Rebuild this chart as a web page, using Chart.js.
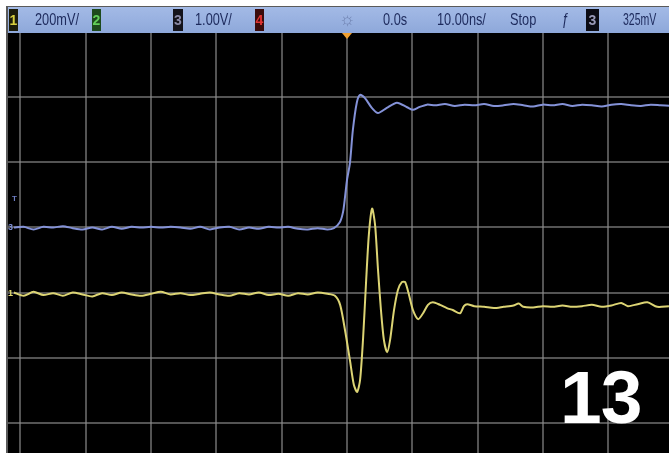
<!DOCTYPE html>
<html>
<head>
<meta charset="utf-8">
<script src="https://cdn.jsdelivr.net/npm/chart.js@4/dist/chart.umd.min.js"></script>
<style>
  html, body { margin: 0; padding: 0; background: #ffffff; }
  body { width: 669px; height: 453px; position: relative; overflow: hidden; }
  #frame { position: absolute; left: 6px; top: 6px; width: 663px; height: 447px; background: #5a5a5a; }
  #header {
    position: absolute; left: 8px; top: 7px; width: 661px; height: 26px;
    background: linear-gradient(#a3bae6, #8ea8da);
    font-family: "Liberation Sans", Arial, sans-serif; color: #1d2a5c;
  }
  .t { position: absolute; top: 3px; font-size: 17px; line-height: 20px; transform: scaleX(0.75); transform-origin: left center; white-space: nowrap; filter: blur(0.45px); }
  .box { position: absolute; top: 2px; height: 22px; font-size: 14px; line-height: 22px; text-align: center; font-weight: bold; font-family: "Liberation Sans", Arial, sans-serif; filter: blur(0.3px); }
  #plot { position: absolute; left: 8px; top: 33px; width: 661px; height: 420px; background: #000; }
  #c { filter: blur(0.35px); }
  #big {
    position: absolute; left: 560px; top: 352px; font-family: "Liberation Sans", Arial, sans-serif;
    font-weight: bold; font-size: 75px; line-height: 90px; color: #ffffff; letter-spacing: -1px;
  }
  .mk { position: absolute; font-family: "Liberation Sans", Arial, sans-serif; font-size: 9px; font-weight: bold; line-height: 10px; filter: blur(0.3px); }
  #trig { position: absolute; left: 342px; top: 33px; width: 0; height: 0;
    border-left: 5px solid transparent; border-right: 5px solid transparent; border-top: 6px solid #f0a030; }
</style>
</head>
<body>
<div id="frame"></div>
<div id="plot"><canvas id="c" width="661" height="420"></canvas></div>
<div id="header">
  <div class="box" style="left:1px;width:9px;background:#1c1c0a;color:#d6ce3e;">1</div>
  <span class="t" style="left:27px;">200mV/</span>
  <div class="box" style="left:84px;width:9px;background:#1d4a1d;color:#62cf5a;">2</div>
  <div class="box" style="left:165px;width:10px;background:#14141c;color:#8a8aa6;">3</div>
  <span class="t" style="left:187px;">1.00V/</span>
  <div class="box" style="left:247px;width:9px;background:#3a0c0c;color:#e03434;">4</div>
  <span class="t" style="left:331px;top:2px;color:#6f82b0;font-size:18px;transform:none;">☼</span>
  <span class="t" style="left:375px;">0.0s</span>
  <span class="t" style="left:429px;">10.00ns/</span>
  <span class="t" style="left:502px;">Stop</span>
  <span class="t" style="left:554px;">ƒ</span>
  <div class="box" style="left:578px;width:13px;background:#0c0c14;color:#9a9ab8;">3</div>
  <span class="t" style="left:615px;transform:scaleX(0.62);">325mV</span>
</div>
<div id="trig"></div>
<div class="mk" style="left:8px;top:222px;color:#7f8fd6;">3</div>
<div class="mk" style="left:12px;top:194px;color:#6f7fc6;font-size:8px;">T</div>
<div class="mk" style="left:8px;top:288px;color:#e0d870;">1</div>
<div id="big">13</div>

<script>
// Channel 1 (yellow, 200mV/div) — time in ns, amplitude in screen divisions
const ch1TimeNs = [
  -51.0, -49.5, -48.0, -46.5, -45.0, -43.5, -42.0, -40.5, -39.0, -37.5,
  -36.0, -34.5, -33.0, -31.5, -30.0, -28.5, -27.0, -25.5, -24.0, -22.5,
  -21.0, -19.5, -18.0, -16.5, -15.0, -13.5, -12.0, -10.5, -9.0, -7.5,
  -6.0, -4.5, -3.0, -1.85, -1.05, -0.3, 0.45, 1.05, 1.55, 2.0,
  2.45, 2.9, 3.35, 3.85, 4.3, 4.75, 5.2, 5.65, 6.15, 6.6,
  7.2, 7.8, 8.4, 8.9, 9.5, 10.1, 10.9, 11.65, 12.4, 13.15,
  14.25, 15.3, 16.2, 17.3, 17.9, 18.4, 19.5, 21.0, 22.5, 24.0,
  25.5, 26.3, 27.0, 28.5, 30.0, 31.5, 33.0, 34.5, 36.0, 37.5,
  39.0, 40.5, 42.0, 43.0, 44.5, 46.0, 47.5, 49.3
];
const ch1Div = [
  0.00, -0.05, 0.01, -0.04, -0.01, -0.05, 0.00, -0.03, -0.06, -0.01,
  -0.04, 0.00, -0.03, -0.05, -0.02, 0.01, -0.03, -0.01, -0.04, -0.02,
  0.00, -0.03, -0.05, -0.01, -0.03, 0.00, -0.04, -0.02, -0.05, -0.01,
  -0.03, 0.00, -0.02, -0.05, -0.19, -0.58, -1.04, -1.42, -1.53, -1.35,
  -0.73, 0.12, 0.89, 1.29, 1.04, 0.35, -0.27, -0.73, -0.92, -0.73,
  -0.27, 0.04, 0.16, 0.16, -0.04, -0.27, -0.41, -0.32, -0.19, -0.15,
  -0.19, -0.24, -0.27, -0.32, -0.21, -0.18, -0.21, -0.22, -0.24, -0.22,
  -0.20, -0.17, -0.22, -0.23, -0.21, -0.22, -0.20, -0.22, -0.21, -0.19,
  -0.22, -0.20, -0.16, -0.21, -0.18, -0.15, -0.22, -0.21
];

// Channel 3 (blue, 1.00V/div) — time in ns, amplitude in screen divisions
const ch3TimeNs = [
  -51.0, -49.5, -48.0, -46.5, -45.0, -43.5, -42.0, -40.5, -39.0, -37.5,
  -36.0, -34.5, -33.0, -31.5, -30.0, -28.5, -27.0, -25.5, -24.0, -22.5,
  -21.0, -19.5, -18.0, -16.5, -15.0, -13.5, -12.0, -10.5, -9.0, -7.5,
  -6.0, -4.5, -3.0, -2.0, -1.1, -0.6, -0.3, 0.0, 0.45, 0.9,
  1.5, 2.0, 2.75, 3.8, 4.75, 6.1, 7.65, 9.2, 10.1, 11.0,
  12.25, 13.5, 15.0, 16.5, 18.0, 19.5, 21.0, 22.5, 24.0, 25.5,
  27.0, 28.5, 30.0, 31.5, 33.0, 34.5, 36.0, 37.5, 39.0, 40.5,
  42.0, 43.5, 45.0, 46.5, 48.0, 49.5
];
const ch3Div = [
  1.00, 1.01, 0.97, 1.01, 1.00, 1.02, 0.99, 0.97, 1.00, 0.97,
  1.01, 0.98, 1.01, 1.00, 1.01, 1.00, 1.01, 1.00, 0.98, 1.01,
  0.97, 1.00, 1.01, 0.97, 1.00, 0.98, 1.01, 1.00, 1.01, 0.98,
  0.97, 0.99, 0.97, 0.99, 1.08, 1.24, 1.47, 1.73, 1.99, 2.50,
  2.92, 3.04, 2.99, 2.84, 2.76, 2.84, 2.92, 2.85, 2.81, 2.85,
  2.89, 2.88, 2.90, 2.87, 2.89, 2.88, 2.90, 2.87, 2.88, 2.90,
  2.88, 2.86, 2.89, 2.88, 2.90, 2.87, 2.89, 2.88, 2.86, 2.89,
  2.90, 2.88, 2.87, 2.89, 2.88, 2.87
];

// Graticule: 10 ns per horizontal division, one division per vertical step
const gridTimeNs = [-50, -40, -30, -20, -10, 0, 10, 20, 30, 40];
const gridDiv = [-2, -1, 0, 1, 2, 3];

const toPoints = (xs, ys) => xs.map((x, i) => ({ x, y: ys[i] }));

new Chart(document.getElementById('c'), {
  type: 'line',
  data: {
    datasets: [
      {
        label: 'Channel 3',
        data: toPoints(ch3TimeNs, ch3Div),
        borderColor: '#8492d8',
        borderWidth: 2,
        pointRadius: 0,
        tension: 0.25
      },
      {
        label: 'Channel 1',
        data: toPoints(ch1TimeNs, ch1Div),
        borderColor: '#dcd474',
        borderWidth: 2,
        pointRadius: 0,
        tension: 0.25
      }
    ]
  },
  options: {
    responsive: false,
    animation: false,
    layout: { padding: 0 },
    plugins: { legend: { display: false }, tooltip: { enabled: false } },
    scales: {
      x: {
        type: 'linear',
        min: -51.91,
        max: 49.31,
        afterBuildTicks: (s) => { s.ticks = gridTimeNs.map(v => ({ value: v })); },
        ticks: { display: false },
        grid: { color: 'rgba(140,140,140,0.6)', lineWidth: 2, drawTicks: false },
        border: { display: false }
      },
      y: {
        type: 'linear',
        min: -2.469,
        max: 3.992,
        afterBuildTicks: (s) => { s.ticks = gridDiv.map(v => ({ value: v })); },
        ticks: { display: false },
        grid: { color: 'rgba(140,140,140,0.6)', lineWidth: 2, drawTicks: false },
        border: { display: false }
      }
    }
  }
});
</script>
</body>
</html>
